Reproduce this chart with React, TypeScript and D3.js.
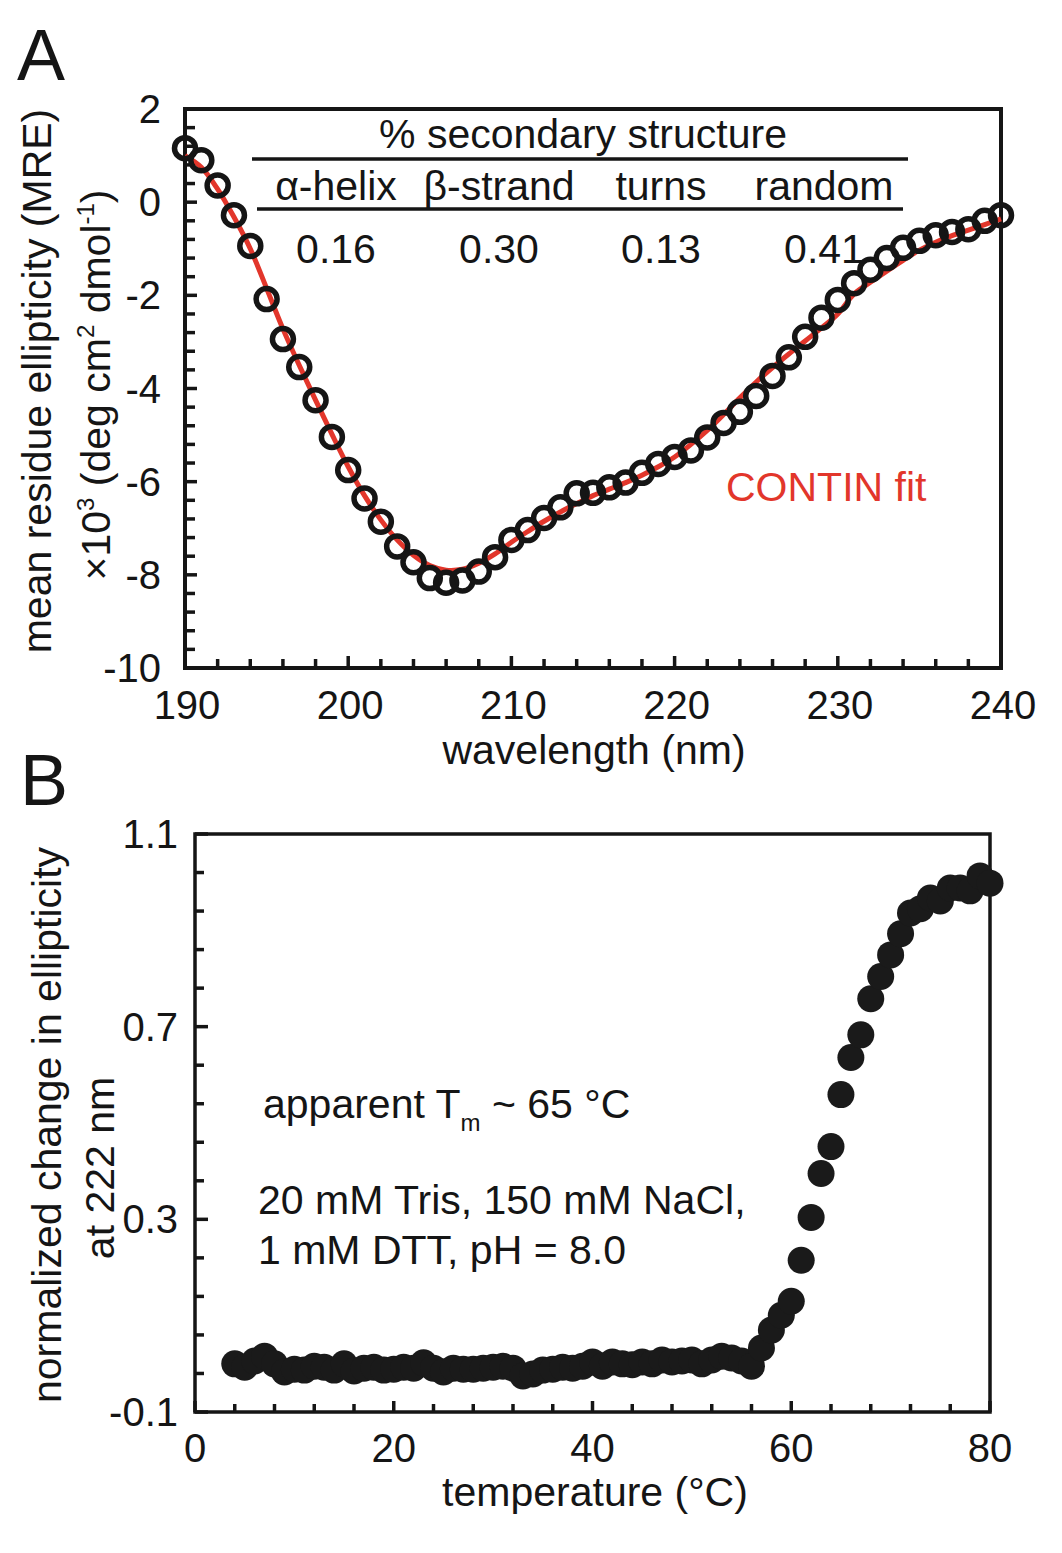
import React from "react";
import * as d3 from "d3";

// ---------- Panel A data (CD spectrum) ----------
const wavelengths = [
  190, 191, 192, 193, 194, 195, 196, 197, 198, 199, 200, 201, 202, 203, 204, 205, 206, 207, 208, 209,
  210, 211, 212, 213, 214, 215, 216, 217, 218, 219, 220, 221, 222, 223, 224, 225, 226, 227, 228, 229,
  230, 231, 232, 233, 234, 235, 236, 237, 238, 239, 240,
];
const mreMeasured = [
  1.16, 0.9, 0.36, -0.28, -0.94, -2.08, -2.94, -3.54, -4.25, -5.04, -5.75, -6.36, -6.86, -7.39, -7.73,
  -8.07, -8.17, -8.12, -7.93, -7.62, -7.25, -7.04, -6.78, -6.55, -6.25, -6.24, -6.12, -6.02, -5.81, -5.62,
  -5.47, -5.33, -5.05, -4.74, -4.5, -4.16, -3.73, -3.33, -2.89, -2.48, -2.1, -1.74, -1.45, -1.2, -0.98,
  -0.83, -0.71, -0.64, -0.58, -0.4, -0.28,
];
const mreFit = [
  1.0, 0.75, 0.28, -0.32, -1.0, -1.85, -2.72, -3.5, -4.25, -4.98, -5.68, -6.3, -6.82, -7.25, -7.58,
  -7.8, -7.9, -7.88, -7.75, -7.55, -7.3, -7.07, -6.85, -6.65, -6.47, -6.3, -6.16, -6.02, -5.86, -5.68,
  -5.47, -5.2, -4.9, -4.56, -4.2, -3.86, -3.55, -3.26, -2.98, -2.7, -2.4, -1.97, -1.72, -1.48, -1.25,
  -1.03, -0.86, -0.72, -0.6, -0.48, -0.36,
];
const yTickLabelsA = [2, 0, -2, -4, -6, -8, -10];
const xTickLabelsA = [190, 200, 210, 220, 230, 240];
const structureNames = ["\u03b1-helix", "\u03b2-strand", "turns", "random"];
const structureValues = ["0.16", "0.30", "0.13", "0.41"];

// ---------- Panel B data (thermal melt) ----------
const temperatures = [
  4, 5, 6, 7, 8, 9, 10, 11, 12, 13, 14, 15, 16, 17, 18, 19, 20, 21, 22, 23, 24, 25, 26, 27, 28, 29, 30,
  31, 32, 33, 34, 35, 36, 37, 38, 39, 40, 41, 42, 43, 44, 45, 46, 47, 48, 49, 50, 51, 52, 53, 54, 55,
  56, 57, 58, 59, 60, 61, 62, 63, 64, 65, 66, 67, 68, 69, 70, 71, 72, 73, 74, 75, 76, 77, 78, 79, 80,
];
const ellipticityChange = [
  0.0, -0.007, 0.006, 0.016, 0.0, -0.017, -0.011, -0.013, -0.005, -0.007, -0.013, 0.0, -0.015, -0.009,
  -0.007, -0.013, -0.011, -0.007, -0.009, 0.002, -0.009, -0.017, -0.009, -0.011, -0.011, -0.009,
  -0.007, -0.005, -0.009, -0.025, -0.021, -0.013, -0.011, -0.007, -0.009, -0.005, 0.004, -0.005,
  0.004, 0.0, -0.002, 0.004, 0.0, 0.008, 0.004, 0.006, 0.008, 0.0, 0.008, 0.016, 0.012, 0.006, -0.005,
  0.033, 0.07, 0.101, 0.13, 0.215, 0.304, 0.395, 0.451, 0.559, 0.636, 0.683, 0.758, 0.804, 0.849,
  0.893, 0.936, 0.945, 0.967, 0.961, 0.988, 0.988, 0.982, 1.013, 0.998,
];
const yTickLabelsB = [1.1, 0.7, 0.3, -0.1];
const xTickLabelsB = [0, 20, 40, 60, 80];

const FONT = "'Liberation Sans', Arial, Helvetica, sans-serif";
const RED = "#e2362b";
const INK = "#151515";

export default function App() {
  // Panel A scales
  const xA = d3.scaleLinear().domain([190, 240]).range([185, 1001]);
  const yA = d3.scaleLinear().domain([-10, 2]).range([668, 109]);
  // Panel B scales
  const xB = d3.scaleLinear().domain([0, 80]).range([195, 990]);
  const yB = d3.scaleLinear().domain([-0.1, 1.1]).range([1412, 834]);

  const fitLine = d3
    .line<number>()
    .x((_, i) => xA(wavelengths[i]))
    .y((d) => yA(d))
    .curve(d3.curveCatmullRom.alpha(0.5));

  const yMinorA = d3.range(0, 31).map((k) => -10 + 0.4 * k);
  const xMinorA = d3.range(0, 26).map((k) => 190 + 2 * k);
  const yMinorB = d3.range(0, 16).map((k) => -0.1 + 0.08 * k);
  const xMinorB = d3.range(0, 21).map((k) => 4 * k);

  const colX = [336, 499, 661, 824];

  return (
    <svg
      width={1062}
      height={1553}
      style={{ position: "absolute", left: 0, top: 0, background: "#fff" }}
      fontFamily={FONT}
    >
      <rect x={0} y={0} width={1062} height={1553} fill="#fff" />

      {/* ================= Panel A ================= */}
      <text x={17} y={80} fontSize={72} fill={INK}>A</text>

      {yMinorA.map((v, i) => (
        <line key={"ya" + i} x1={185} x2={185 + (i % 5 === 0 ? 12 : 10)} y1={yA(v)} y2={yA(v)} stroke={INK} strokeWidth={3.5} />
      ))}
      {xMinorA.map((v, i) => (
        <line key={"xa" + i} x1={xA(v)} x2={xA(v)} y1={668} y2={668 - (v % 10 === 0 ? 12 : 9)} stroke={INK} strokeWidth={3.5} />
      ))}

      <rect x={185} y={109} width={816} height={559} fill="none" stroke={INK} strokeWidth={4} />

      {yTickLabelsA.map((v) => (
        <text key={"yla" + v} x={161} y={yA(v) + 14} fontSize={40} textAnchor="end" fill={INK}>
          {v}
        </text>
      ))}
      {xTickLabelsA.map((v) => (
        <text key={"xla" + v} x={xA(v) + 2} y={719} fontSize={40} textAnchor="middle" fill={INK}>
          {v}
        </text>
      ))}
      <text x={594} y={764} fontSize={41} textAnchor="middle" fill={INK}>wavelength (nm)</text>

      <text transform="translate(51,381) rotate(-90)" fontSize={41} textAnchor="middle" fill={INK}>
        mean residue ellipticity (MRE)
      </text>
      <text transform="translate(110,385) rotate(-90)" fontSize={41} textAnchor="middle" fill={INK}>
        ×10<tspan fontSize={24} dy={-16}>3</tspan>
        <tspan dy={16}> (deg cm</tspan>
        <tspan fontSize={24} dy={-16}>2</tspan>
        <tspan dy={16}> dmol</tspan>
        <tspan fontSize={24} dy={-16}>-1</tspan>
        <tspan dy={16}>)</tspan>
      </text>

      {/* secondary structure table */}
      <text x={583} y={148} fontSize={41} textAnchor="middle" fill={INK}>% secondary structure</text>
      <line x1={252} x2={908} y1={159} y2={159} stroke={INK} strokeWidth={3.5} />
      {structureNames.map((s, i) => (
        <text key={s} x={colX[i]} y={200} fontSize={41} textAnchor="middle" fill={INK}>{s}</text>
      ))}
      <line x1={257} x2={903} y1={209} y2={209} stroke={INK} strokeWidth={3.5} />
      {structureValues.map((s, i) => (
        <text key={"v" + i} x={colX[i]} y={263} fontSize={41} textAnchor="middle" fill={INK}>{s}</text>
      ))}

      {/* fit line and data */}
      <path d={fitLine(mreFit) || ""} fill="none" stroke={RED} strokeWidth={5} />
      {mreMeasured.map((v, i) => (
        <circle key={"c" + i} cx={xA(wavelengths[i])} cy={yA(v)} r={10.5} fill="none" stroke={INK} strokeWidth={5.5} />
      ))}
      <text x={726} y={501} fontSize={41} fill={RED}>CONTIN fit</text>

      {/* ================= Panel B ================= */}
      <text x={20} y={805} fontSize={72} fill={INK}>B</text>

      {yMinorB.map((v, i) => (
        <line key={"yb" + i} x1={195} x2={195 + (i % 5 === 0 ? 13 : 9)} y1={yB(v)} y2={yB(v)} stroke={INK} strokeWidth={3.5} />
      ))}
      {xMinorB.map((v, i) => (
        <line key={"xb" + i} x1={xB(v)} x2={xB(v)} y1={1412} y2={1412 - (v % 20 === 0 ? 11 : 8)} stroke={INK} strokeWidth={3.5} />
      ))}
      <rect x={195} y={834} width={795} height={578} fill="none" stroke={INK} strokeWidth={3.5} />

      {yTickLabelsB.map((v) => (
        <text key={"ylb" + v} x={178} y={yB(v) + 14} fontSize={40} textAnchor="end" fill={INK}>
          {v.toFixed(1)}
        </text>
      ))}
      {xTickLabelsB.map((v) => (
        <text key={"xlb" + v} x={xB(v)} y={1462} fontSize={40} textAnchor="middle" fill={INK}>
          {v}
        </text>
      ))}
      <text x={595} y={1506} fontSize={41} textAnchor="middle" fill={INK}>temperature (°C)</text>

      <text transform="translate(61,1125) rotate(-90)" fontSize={41} textAnchor="middle" fill={INK}>
        normalized change in ellipticity
      </text>
      <text transform="translate(114,1168) rotate(-90)" fontSize={41} textAnchor="middle" fill={INK}>
        at 222 nm
      </text>

      <text x={263} y={1118} fontSize={41} fill={INK}>
        apparent T<tspan fontSize={24} dy={13}>m</tspan>
        <tspan dy={-13}> ~ 65 °C</tspan>
      </text>
      <text x={258} y={1214} fontSize={41} fill={INK}>20 mM Tris, 150 mM NaCl,</text>
      <text x={258} y={1264} fontSize={41} fill={INK}>1 mM DTT, pH = 8.0</text>

      {ellipticityChange.map((v, i) => (
        <circle key={"b" + i} cx={xB(temperatures[i])} cy={yB(v)} r={13.5} fill="#1a1a1a" />
      ))}
    </svg>
  );
}
